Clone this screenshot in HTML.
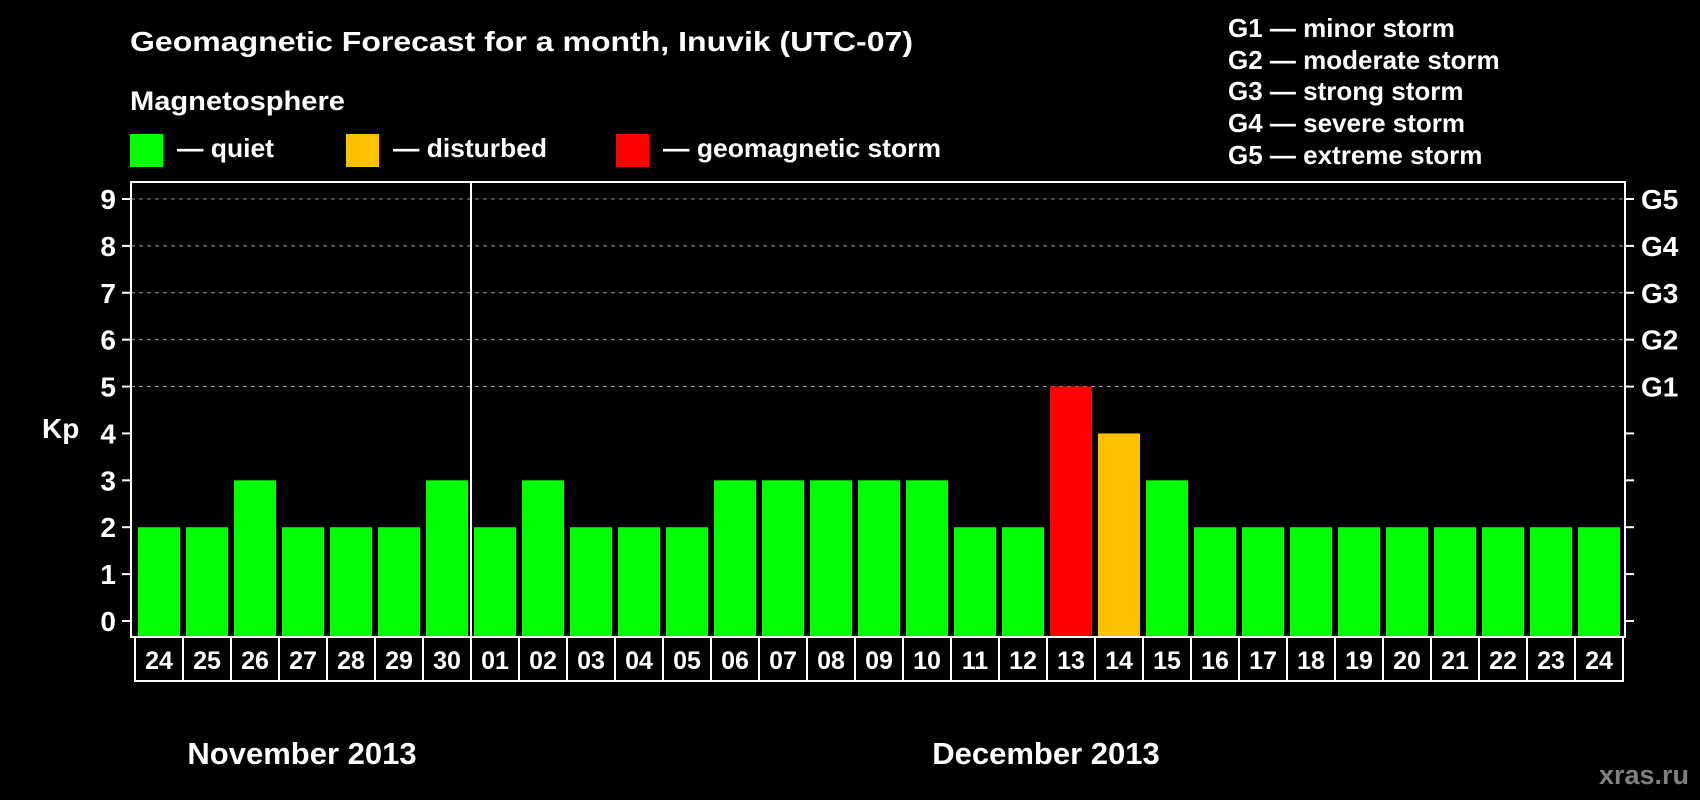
<!DOCTYPE html>
<html><head><meta charset="utf-8"><style>
html,body{margin:0;padding:0;background:#000;}
svg{display:block;font-family:"Liberation Sans",Arial,sans-serif;font-weight:bold;}
</style></head><body>
<svg id="chart" width="1700" height="800" viewBox="0 0 1700 800">
<rect x="0" y="0" width="1700" height="800" fill="#000"/>
<text x="130" y="51" fill="#fff" font-size="28" textLength="783" lengthAdjust="spacingAndGlyphs">Geomagnetic Forecast for a month, Inuvik (UTC-07)</text>
<text x="130" y="110" fill="#fff" font-size="27" textLength="215" lengthAdjust="spacingAndGlyphs">Magnetosphere</text>
<g>
<rect x="130" y="134" width="33" height="33" fill="#00ff00"/>
<text x="177" y="157" fill="#fff" font-size="26" textLength="97" lengthAdjust="spacingAndGlyphs">— quiet</text></g>
<g>
<rect x="346" y="134" width="33" height="33" fill="#ffc000"/>
<text x="393" y="157" fill="#fff" font-size="26" textLength="154" lengthAdjust="spacingAndGlyphs">— disturbed</text></g>
<g>
<rect x="616" y="134" width="33" height="33" fill="#ff0000"/>
<text x="663" y="157" fill="#fff" font-size="26" textLength="278" lengthAdjust="spacingAndGlyphs">— geomagnetic storm</text></g>
<g fill="#fff" font-size="26">
<text x="1228" y="37">G1 — minor storm</text>
<text x="1228" y="69">G2 — moderate storm</text>
<text x="1228" y="100">G3 — strong storm</text>
<text x="1228" y="132">G4 — severe storm</text>
<text x="1228" y="164">G5 — extreme storm</text>
</g>
<g id="grid"></g><g id="bars"></g><g id="axes"></g><g id="dates"></g>
<text x="42" y="438" fill="#fff" font-size="28">Kp</text>
<text x="302" y="764" fill="#fff" font-size="31" text-anchor="middle">November 2013</text>
<text x="1046" y="764" fill="#fff" font-size="31" text-anchor="middle">December 2013</text>
<text x="1689" y="784" fill="#808080" font-size="27" text-anchor="end">xras.ru</text>
</svg>
<script>
const days = ["24","25","26","27","28","29","30","01","02","03","04","05","06","07","08","09","10","11","12","13","14","15","16","17","18","19","20","21","22","23","24"];
const kp = [2,2,3,2,2,2,3,2,3,2,2,2,3,3,3,3,3,2,2,5,4,3,2,2,2,2,2,2,2,2,2];
const yTicks = [0,1,2,3,4,5,6,7,8,9];
const gLabels = ["G1","G2","G3","G4","G5"];
const gValues = [5,6,7,8,9];

const NS="http://www.w3.org/2000/svg";
const L=131,R=1625,T=182,B=637,y0=621,unit=(621-199)/9;
const x0=138,pitch=48,bw=42;
function yS(v){return y0-v*unit;}
function xS(i){return x0+i*pitch;}
function mk(tag,attrs,parent){const e=document.createElementNS(NS,tag);for(const k in attrs)e.setAttribute(k,attrs[k]);parent.appendChild(e);return e;}
const grid=document.getElementById('grid'),bars=document.getElementById('bars'),axes=document.getElementById('axes'),dates=document.getElementById('dates');
function color(v){return v>=5?"#ff0000":(v>=4?"#ffc000":"#00ff00");}
yTicks.forEach(v=>{
  if(v>=5){const g=mk('line',{x1:L,x2:R,y1:yS(v),y2:yS(v),stroke:"#999","stroke-width":1,"stroke-dasharray":"4,4"},grid);
  
  }
});
kp.forEach((v,i)=>{
  const r=mk('rect',{x:xS(i),y:yS(v),width:bw,height:(B-1)-yS(v),fill:color(v)},bars);
  
  
});
const fr=mk('rect',{x:L,y:T,width:R-L,height:B-T,fill:"none",stroke:"#fff","stroke-width":2},axes);


const sep=mk('line',{x1:471,x2:471,y1:T,y2:B,stroke:"#fff","stroke-width":2},axes);


yTicks.forEach(v=>{
  const t=mk('line',{x1:122,x2:L,y1:yS(v),y2:yS(v),stroke:"#fff","stroke-width":2},axes);
  
  
  const t2=mk('line',{x1:R,x2:1634,y1:yS(v),y2:yS(v),stroke:"#fff","stroke-width":2},axes);
  
  
  const lb=mk('text',{x:116,y:yS(v)+10,fill:"#fff","font-size":28,"text-anchor":"end"},axes);
  lb.textContent=v;
  
  
});
gLabels.forEach((g,i)=>{
  const lb=mk('text',{x:1641,y:yS(gValues[i])+10,fill:"#fff","font-size":28},axes);
  lb.textContent=g;
  
  
});
days.forEach((d,i)=>{
  const bx=mk('rect',{x:135+i*pitch,y:B,width:pitch,height:44,fill:"none",stroke:"#fff","stroke-width":2},dates);
  
  
  const t=mk('text',{x:135+i*pitch+pitch/2,y:669,fill:"#fff","font-size":25,"text-anchor":"middle"},dates);
  t.textContent=d;
  
  
});
</script>
</body></html>
